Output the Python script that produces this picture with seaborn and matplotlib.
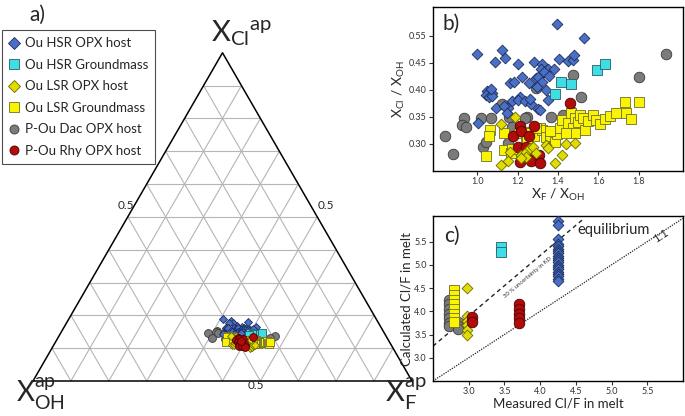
import numpy as np
import pandas as pd
import matplotlib
matplotlib.use("Agg")
import matplotlib.pyplot as plt
import seaborn as sns
from matplotlib.lines import Line2D


# panel b: X_F/X_OH and X_Cl/X_OH in apatite, per group
hsr_opx_f = [1.395, 1.527, 1.000, 1.122, 1.139, 1.086, 1.200, 1.279, 1.321, 1.403,
             1.451, 1.474, 1.478, 1.314, 1.350, 1.379, 1.162, 1.180, 1.220, 1.256,
             1.293, 1.302, 1.319, 1.329, 1.355, 1.294, 1.342, 1.050, 1.073, 1.043,
             1.058, 1.074, 1.068, 1.170, 1.210, 1.203, 1.236, 1.264, 1.301, 1.311,
             1.350, 1.261, 1.091, 1.154, 1.132, 1.147, 1.003]
hsr_opx_cl = [0.521, 0.496, 0.467, 0.473, 0.459, 0.452, 0.447, 0.451, 0.448, 0.457,
              0.454, 0.455, 0.464, 0.438, 0.438, 0.438, 0.412, 0.414, 0.423, 0.412,
              0.422, 0.424, 0.415, 0.432, 0.426, 0.405, 0.400, 0.398, 0.395, 0.390,
              0.387, 0.389, 0.401, 0.379, 0.387, 0.381, 0.380, 0.374, 0.365, 0.363,
              0.382, 0.383, 0.366, 0.367, 0.370, 0.357, 0.338]
hsr_gm_f = [1.413, 1.463, 1.384, 1.593, 1.635]
hsr_gm_cl = [0.414, 0.410, 0.392, 0.437, 0.448]
lsr_opx_f = [1.119, 1.152, 1.185, 1.116, 1.164, 1.218, 1.240, 1.260, 1.276, 1.293,
             1.240, 1.218, 1.339, 1.350, 1.384, 1.420, 1.441, 1.483]
lsr_opx_cl = [0.261, 0.269, 0.350, 0.337, 0.286, 0.280, 0.286, 0.292, 0.295, 0.284,
              0.275, 0.274, 0.298, 0.292, 0.264, 0.280, 0.300, 0.302]
lsr_gm_f = [1.064, 1.056, 1.045, 1.131, 1.132, 1.169, 1.205, 1.240, 1.263, 1.281,
            1.243, 1.309, 1.322, 1.339, 1.359, 1.384, 1.395, 1.408, 1.422, 1.450,
            1.474, 1.466, 1.483, 1.499, 1.507, 1.524, 1.532, 1.549, 1.574, 1.587,
            1.607, 1.635, 1.656, 1.689, 1.731, 1.739, 1.764, 1.802, 1.483, 1.441,
            1.359, 1.293, 1.246, 1.174]
lsr_gm_cl = [0.326, 0.315, 0.278, 0.320, 0.288, 0.283, 0.320, 0.322, 0.320, 0.314,
             0.310, 0.329, 0.326, 0.312, 0.315, 0.304, 0.318, 0.329, 0.344, 0.338,
             0.329, 0.357, 0.347, 0.341, 0.354, 0.347, 0.326, 0.343, 0.354, 0.344,
             0.337, 0.346, 0.352, 0.358, 0.378, 0.357, 0.346, 0.378, 0.320, 0.320,
             0.323, 0.329, 0.307, 0.290]
dac_f = [1.937, 1.800, 1.476, 1.293, 1.124, 1.246, 1.157, 1.464, 1.512, 1.425,
         1.367, 0.934, 0.924, 0.942, 1.020, 1.069, 0.838, 0.879, 1.028, 1.045,
         1.152, 1.174, 1.235]
dac_cl = [0.467, 0.424, 0.427, 0.403, 0.374, 0.349, 0.350, 0.361, 0.386, 0.354,
          0.349, 0.347, 0.335, 0.332, 0.347, 0.347, 0.315, 0.282, 0.295, 0.304,
          0.301, 0.332, 0.347]
rhy_f = [1.458, 1.210, 1.279, 1.177, 1.218, 1.202, 1.240, 1.260, 1.210, 1.264,
         1.306, 1.309, 1.256]
rhy_cl = [0.376, 0.333, 0.333, 0.315, 0.323, 0.295, 0.294, 0.282, 0.267, 0.269,
          0.280, 0.264, 0.314]

# panel c: measured vs calculated Cl/F in melt
hsr_opx_meas = [4.25] * 20
hsr_opx_calc = [5.95, 5.85, 5.55, 5.45, 5.40, 5.35, 5.30, 5.25, 5.20, 5.15,
                5.10, 5.05, 5.00, 4.95, 4.90, 4.85, 4.80, 4.75, 4.70, 4.65]
hsr_gm_meas = [3.45, 3.45]
hsr_gm_calc = [5.38, 5.28]
lsr_opx_meas = [2.97, 2.97, 2.97, 2.97, 2.97, 2.97]
lsr_opx_calc = [4.50, 3.90, 3.80, 3.70, 3.60, 3.50]
lsr_gm_meas = [2.79] * 8
lsr_gm_calc = [4.45, 4.35, 4.25, 4.15, 4.05, 3.95, 3.85, 3.78]
dac_meas = [2.72, 2.72, 2.72, 2.72, 2.72, 2.72, 2.72, 2.85, 2.85, 2.85]
dac_calc = [4.25, 4.15, 4.05, 3.95, 3.85, 3.75, 3.68, 3.78, 3.68, 3.62]
rhy_meas = [3.04, 3.04, 3.70, 3.70, 3.70, 3.70, 3.70]
rhy_calc = [3.88, 3.78, 4.15, 4.05, 3.95, 3.85, 3.75]

GROUPS = ["Ou HSR OPX host", "Ou HSR Groundmass", "Ou LSR OPX host",
          "Ou LSR Groundmass", "P-Ou Dac OPX host", "P-Ou Rhy OPX host"]

# marker, face, edge, size
STYLES = {
    "Ou HSR OPX host": ("D", "#4a6fc4", "#1c2c5c", 30),
    "Ou HSR Groundmass": ("s", "#3fdde6", "#2b5e64", 48),
    "Ou LSR OPX host": ("D", "#e0dc00", "#6b6800", 30),
    "Ou LSR Groundmass": ("s", "#fbf400", "#6e6c30", 52),
    "P-Ou Dac OPX host": ("o", "#7b7b7b", "#3a3a3a", 58),
    "P-Ou Rhy OPX host": ("o", "#b30a0a", "#4a0000", 58),
}

ratio_df = pd.concat([
    pd.DataFrame({"group": g, "xf": f, "xcl": c})
    for g, f, c in zip(GROUPS,
                       [hsr_opx_f, hsr_gm_f, lsr_opx_f, lsr_gm_f, dac_f, rhy_f],
                       [hsr_opx_cl, hsr_gm_cl, lsr_opx_cl, lsr_gm_cl, dac_cl, rhy_cl])
], ignore_index=True)

melt_df = pd.concat([
    pd.DataFrame({"group": g, "meas": m, "calc": c})
    for g, m, c in zip(GROUPS,
                       [hsr_opx_meas, hsr_gm_meas, lsr_opx_meas, lsr_gm_meas, dac_meas, rhy_meas],
                       [hsr_opx_calc, hsr_gm_calc, lsr_opx_calc, lsr_gm_calc, dac_calc, rhy_calc])
], ignore_index=True)

# apatite mole fractions from the ratios (X_F + X_Cl + X_OH = 1)
ratio_df["xoh_ap"] = 1.0 / (1.0 + ratio_df["xf"] + ratio_df["xcl"])
ratio_df["xf_ap"] = ratio_df["xf"] * ratio_df["xoh_ap"]
ratio_df["xcl_ap"] = ratio_df["xcl"] * ratio_df["xoh_ap"]
H = np.sqrt(3) / 2
ratio_df["tx"] = ratio_df["xf_ap"] + 0.5 * ratio_df["xcl_ap"]
ratio_df["ty"] = ratio_df["xcl_ap"] * H


def draw_groups(ax, df, x, y, order, scale=1.0):
    for g in order:
        m, fc, ec, s = STYLES[g]
        sns.scatterplot(data=df[df["group"] == g], x=x, y=y, marker=m, color=fc,
                        edgecolor=ec, linewidth=0.6, s=s * scale, ax=ax,
                        legend=False, zorder=3)


sns.set_theme(style="ticks")
plt.rcParams["font.family"] = ["Lato", "DejaVu Sans"]
plt.rcParams["mathtext.fontset"] = "custom"
plt.rcParams["mathtext.rm"] = "Lato"
plt.rcParams["mathtext.it"] = "Lato"

fig = plt.figure(figsize=(6.85, 4.16), dpi=100)

# ---- a) ternary
ax_a = fig.add_axes([0, 0, 430 / 685, 1])
side = 379
ax_a.set_xlim(-33 / side, (430 - 33) / side)
ax_a.set_ylim(-35 / side, 381 / side)
ax_a.axis("off")

for i in range(1, 10):
    f = i / 10
    kw = dict(color="#b5b5b5", lw=0.8, zorder=1)
    ax_a.plot([f / 2, 1 - f / 2], [f * H, f * H], **kw)
    ax_a.plot([f, f + (1 - f) / 2], [0, (1 - f) * H], **kw)
    ax_a.plot([1 - f, (1 - f) / 2], [0, (1 - f) * H], **kw)
ax_a.plot([0, 1, 0.5, 0], [0, 0, H, 0], color="black", lw=1.1, zorder=2)

draw_groups(ax_a, ratio_df, "tx", "ty",
            ["P-Ou Dac OPX host", "Ou HSR OPX host", "Ou HSR Groundmass",
             "Ou LSR Groundmass", "Ou LSR OPX host", "P-Ou Rhy OPX host"], scale=0.55)

ax_a.text(0.245, 0.464, "0.5", fontsize=8.5, ha="center", va="center")
ax_a.text(0.773, 0.464, "0.5", fontsize=8.5, ha="center", va="center")
ax_a.text(0.588, -0.013, "0.5", fontsize=8.5, ha="center", va="center")
ax_a.text(0.47, 0.918, r"$\mathregular{X_{Cl}{}^{ap}}$", fontsize=21, ha="left", va="center")
ax_a.text(-0.045, -0.035, r"$\mathregular{X_{OH}^{ap}}$", fontsize=20, ha="left", va="center")
ax_a.text(0.93, -0.035, r"$\mathregular{X_{F}^{ap}}$", fontsize=21, ha="left", va="center")
ax_a.text(0.012, 0.966, "a)", fontsize=15, ha="center", va="center")

handles = []
for g in GROUPS:
    m, fc, ec, s = STYLES[g]
    handles.append(Line2D([], [], marker=m, ls="none", mfc=fc, mec=ec, mew=0.6, ms=6.5))
leg = ax_a.legend(handles, GROUPS, loc="upper left", bbox_to_anchor=(0.005, 0.928),
                  borderaxespad=0, fontsize=9.5, frameon=True, fancybox=False,
                  handlelength=0.7, handletextpad=0.45, labelspacing=0.72,
                  borderpad=0.55)
leg.get_frame().set_edgecolor("#222222")
leg.get_frame().set_linewidth(0.8)


def style_axes(ax):
    for sp in ax.spines.values():
        sp.set_color("black")
        sp.set_linewidth(1.0)
    ax.tick_params(direction="out", length=3, width=0.8, labelsize=6.5,
                   colors="#333333", pad=1.5)
    ax.grid(False)


# ---- b) ratio plot
ax_b = fig.add_axes([433 / 685, (416 - 171) / 416, 250 / 685, 164 / 416])
draw_groups(ax_b, ratio_df, "xf", "xcl",
            ["P-Ou Dac OPX host", "Ou HSR OPX host", "Ou HSR Groundmass",
             "Ou LSR Groundmass", "P-Ou Rhy OPX host", "Ou LSR OPX host"])
ax_b.set_xlim(0.78, 2.02)
ax_b.set_ylim(0.25, 0.553)
ax_b.set_xticks([1.0, 1.2, 1.4, 1.6, 1.8])
ax_b.set_xticklabels(["1.0", "1.2", "1.4", "1.6", "1.8"])
ax_b.set_yticks([0.30, 0.35, 0.40, 0.45, 0.50])
ax_b.set_yticklabels(["0.30", "0.35", "0.40", "0.45", "0.55"])
ax_b.set_xlabel(r"$\mathregular{X_F\ /\ X_{OH}}$", fontsize=10, labelpad=0.5)
ax_b.set_ylabel(r"$\mathregular{X_{Cl}\ /\ X_{OH}}$", fontsize=10, labelpad=1)
style_axes(ax_b)
ax_b.text(0.04, 0.9, "b)", transform=ax_b.transAxes, fontsize=15, va="center")

# ---- c) melt Cl/F
ax_c = fig.add_axes([433 / 685, (416 - 381) / 416, 250 / 685, 165 / 416])
ax_c.plot([2.5, 6.0], [2.5, 6.0], ls=(0, (1, 1)), color="#222222", lw=0.9, zorder=1)
ax_c.plot([2.5, 6.0 / 1.3], [2.5 * 1.3, 6.0], ls=(0, (3, 2.5)), color="#222222",
          lw=1.0, zorder=1)
draw_groups(ax_c, melt_df, "meas", "calc",
            ["P-Ou Dac OPX host", "Ou LSR Groundmass", "Ou LSR OPX host",
             "P-Ou Rhy OPX host", "Ou HSR OPX host", "Ou HSR Groundmass"])
ax_c.set_xlim(2.5, 6.0)
ax_c.set_ylim(2.5, 6.05)
ticks = [3.0, 3.5, 4.0, 4.5, 5.0, 5.5]
ax_c.set_xticks(ticks)
ax_c.set_yticks(ticks)
ax_c.set_xticklabels([f"{t:.1f}" for t in ticks])
ax_c.set_yticklabels([f"{t:.1f}" for t in ticks])
ax_c.set_xlabel("Measured Cl/F in melt", fontsize=9.5, labelpad=1)
ax_c.set_ylabel("Calculated Cl/F in melt", fontsize=9.5, labelpad=1)
style_axes(ax_c)
ax_c.text(0.045, 0.88, "c)", transform=ax_c.transAxes, fontsize=15, va="center")
ax_c.text(4.52, 5.75, "equilibrium", fontsize=10.5, va="center")
ax_c.text(5.69, 5.62, "1:1", fontsize=8, rotation=33, ha="center", va="center")
ax_c.text(3.83, 4.72, "30 % uncertainty in KD", fontsize=4.3, rotation=40,
          ha="center", va="center", color="#333333")

fig.savefig("out.png", dpi=100)
